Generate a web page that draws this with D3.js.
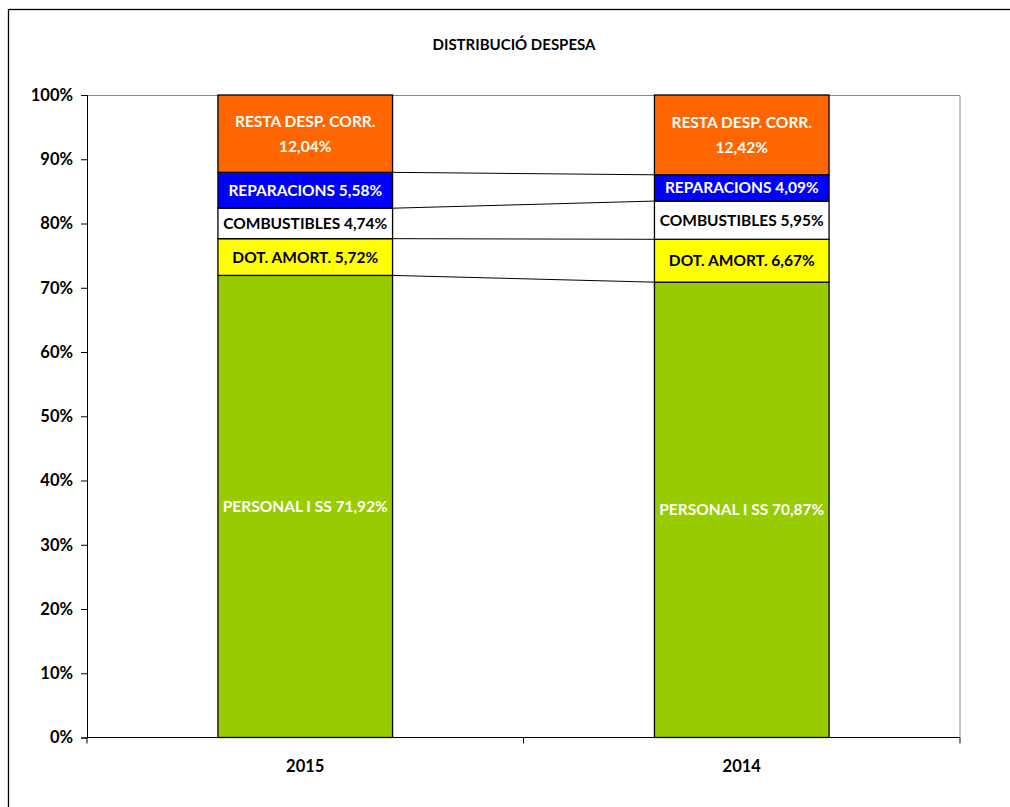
<!DOCTYPE html>
<html><head><meta charset="utf-8">
<script src="https://cdn.jsdelivr.net/npm/d3@7"></script>
<style>html,body{margin:0;padding:0;background:#fff}</style>
</head><body>
<script>
const title = "DISTRIBUCIÓ DESPESA";
const categories = ["2015", "2014"];
const seriesNames = ["PERSONAL I SS", "DOT. AMORT.", "COMBUSTIBLES", "REPARACIONS", "RESTA DESP. CORR."];
const personal = [71.92, 70.87];
const dotAmort = [5.72, 6.67];
const combustibles = [4.74, 5.95];
const reparacions = [5.58, 4.09];
const resta = [12.04, 12.42];
const yTicks = [0, 10, 20, 30, 40, 50, 60, 70, 80, 90, 100];
const colors = ["#99CC00", "#FFFF00", "#FFFFFF", "#0000FF", "#FF6600"];
const labelColors = ["#fff", "#000", "#000", "#fff", "#fff"];

const series = [personal, dotAmort, combustibles, reparacions, resta];
const fmt = v => v.toFixed(2).replace(".", ",") + "%";

const W = 1010, H = 807;
const m = {left: 87, top: 95, right: 50, bottom: 69.5};
const svg = d3.select("body").append("svg").attr("width", W).attr("height", H);
const font = "Lato, 'Open Sans', sans-serif";

svg.append("rect").attr("x", 8.5).attr("y", 9.5).attr("width", W).attr("height", H)
  .attr("fill", "none").attr("stroke", "#000").attr("stroke-width", 1.3);

svg.append("text").attr("x", 514).attr("y", 50).attr("text-anchor", "middle")
  .attr("font-family", font).attr("font-weight", "bold").attr("font-size", 15).text(title);

const x = d3.scaleBand().domain(categories).range([m.left, W - m.right]).padding(0);
const y = d3.scaleLinear().domain([0, 100]).range([H - m.bottom, m.top]);
const barW = x.bandwidth() * 0.4;
const bx = c => x(c) + (x.bandwidth() - barW) / 2;

// plot border top/right
svg.append("path").attr("d", `M${m.left},${m.top + 0.5}H${W - m.right}V${H - m.bottom}`)
  .attr("fill", "none").attr("stroke", "#888").attr("stroke-width", 1);

// stacks
const stack = categories.map((c, i) => {
  let acc = 0;
  return series.map((s, k) => { const y0 = acc; acc += s[i]; return {c, k, y0, y1: acc, v: s[i]}; });
});

// connector lines
for (let k = 0; k < series.length - 1; k++) {
  const a = stack[0][k], b = stack[1][k];
  svg.append("line").attr("x1", bx(categories[0]) + barW).attr("y1", y(a.y1))
    .attr("x2", bx(categories[1])).attr("y2", y(b.y1))
    .attr("stroke", "#000").attr("stroke-width", 1);
}

stack.forEach(segs => {
  segs.forEach(d => {
    svg.append("rect").attr("x", bx(d.c)).attr("y", y(d.y1)).attr("width", barW)
      .attr("height", y(d.y0) - y(d.y1)).attr("fill", colors[d.k])
      .attr("stroke", "#000").attr("stroke-width", 1.3);
  });
});

stack.forEach(segs => {
  segs.forEach(d => {
    const cx = bx(d.c) + barW / 2, cy = (y(d.y0) + y(d.y1)) / 2;
    const t = svg.append("text").attr("text-anchor", "middle").attr("font-family", font)
      .attr("font-weight", "bold").attr("font-size", 15.5).attr("fill", labelColors[d.k]);
    if (d.k === 4) {
      t.append("tspan").attr("x", cx).attr("y", cy - 7).text(seriesNames[d.k]);
      t.append("tspan").attr("x", cx).attr("y", cy + 18.5).text(fmt(d.v));
    } else {
      t.attr("x", cx).attr("y", cy + 5.5).text(seriesNames[d.k] + " " + fmt(d.v));
    }
  });
});

// axes
const yAxis = d3.axisLeft(y).tickValues(yTicks).tickFormat(d => d + "%").tickSize(6).tickPadding(8);
const gy = svg.append("g").attr("transform", `translate(${m.left},0)`).call(yAxis);
gy.select(".domain").attr("stroke", "#000");
gy.selectAll("line").attr("stroke", "#000");
gy.selectAll("text").attr("font-family", font).attr("font-weight", "bold").attr("font-size", 16.5).attr("fill", "#000");

const gx = svg.append("g").attr("transform", `translate(0,${H - m.bottom})`);
gx.append("line").attr("x1", m.left).attr("x2", W - m.right).attr("stroke", "#000");
[m.left, x(categories[1]), W - m.right].forEach(v =>
  gx.append("line").attr("x1", v).attr("x2", v).attr("y1", 0).attr("y2", 6).attr("stroke", "#000"));
categories.forEach(c => gx.append("text").attr("x", x(c) + x.bandwidth() / 2).attr("y", 34)
  .attr("text-anchor", "middle").attr("font-family", font).attr("font-weight", "bold")
  .attr("font-size", 16.5).text(c));
</script>
</body></html>
